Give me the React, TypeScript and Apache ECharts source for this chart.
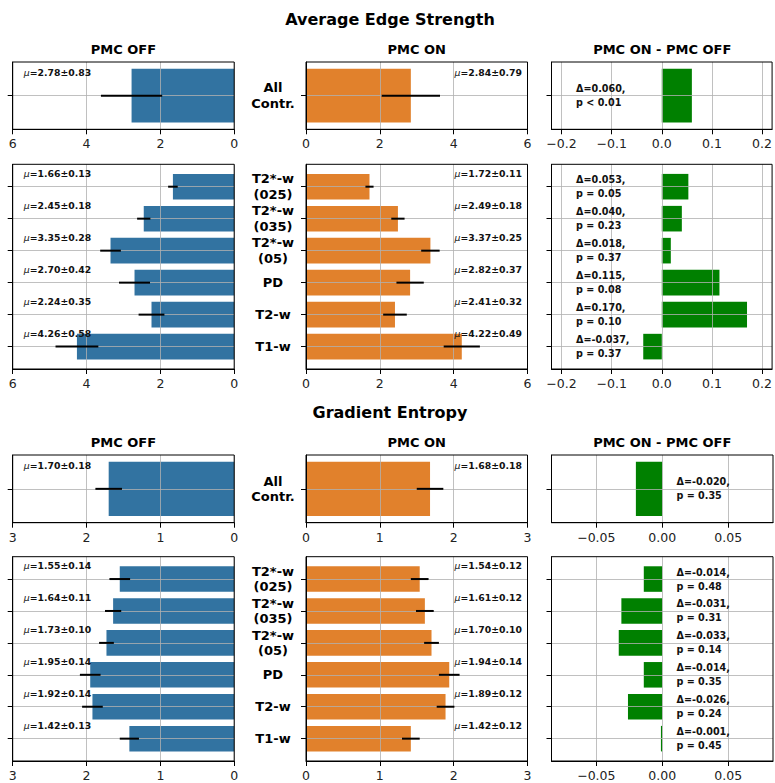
import React, { useEffect, useRef } from 'react';
import * as echarts from 'echarts';

// Contrast categories, listed top to bottom
const contrasts = ['T2*-w\n(025)', 'T2*-w\n(035)', 'T2*-w\n(05)', 'PD', 'T2-w', 'T1-w'];
const pooled = ['All\nContr.'];

// Average Edge Strength: pooled over all contrasts
const edgeOffAll = [2.78];
const edgeOffAllSd = [0.83];
const edgeOnAll = [2.84];
const edgeOnAllSd = [0.79];
const edgeDeltaAll = [0.06];
const edgePAll = ['p < 0.01'];

// Average Edge Strength: per contrast
const edgeOff = [1.66, 2.45, 3.35, 2.7, 2.24, 4.26];
const edgeOffSd = [0.13, 0.18, 0.28, 0.42, 0.35, 0.58];
const edgeOn = [1.72, 2.49, 3.37, 2.82, 2.41, 4.22];
const edgeOnSd = [0.11, 0.18, 0.25, 0.37, 0.32, 0.49];
const edgeDelta = [0.053, 0.04, 0.018, 0.115, 0.17, -0.037];
const edgeP = ['p = 0.05', 'p = 0.23', 'p = 0.37', 'p = 0.08', 'p = 0.10', 'p = 0.37'];

// Gradient Entropy: pooled over all contrasts
const gradOffAll = [1.7];
const gradOffAllSd = [0.18];
const gradOnAll = [1.68];
const gradOnAllSd = [0.18];
const gradDeltaAll = [-0.02];
const gradPAll = ['p = 0.35'];

// Gradient Entropy: per contrast
const gradOff = [1.55, 1.64, 1.73, 1.95, 1.92, 1.42];
const gradOffSd = [0.14, 0.11, 0.1, 0.14, 0.14, 0.13];
const gradOn = [1.54, 1.61, 1.7, 1.94, 1.89, 1.42];
const gradOnSd = [0.12, 0.12, 0.1, 0.14, 0.12, 0.12];
const gradDelta = [-0.014, -0.031, -0.033, -0.014, -0.026, -0.001];
const gradP = ['p = 0.48', 'p = 0.31', 'p = 0.14', 'p = 0.35', 'p = 0.24', 'p = 0.45'];

// Tick values
const edgeTicks = [0, 2, 4, 6];
const gradTicks = [0, 1, 2, 3];
const edgeDeltaTicks = [-0.2, -0.1, 0, 0.1, 0.2];
const gradDeltaTicks = [-0.05, 0, 0.05];

const subtitles = ['PMC OFF', 'PMC ON', 'PMC ON - PMC OFF'];

const FONT = 'DejaVu Sans';
const COLORS = ['#3273a1', '#e1812c', '#008000'];
const GRID_LINE = 'rgba(176,176,176,0.8)';

const sections = [
  {
    title: 'Average Edge Strength',
    ticks: edgeTicks,
    dTicks: edgeDeltaTicks,
    dLim: 0.22,
    dDec: 1,
    dTextX: -0.171,
    rows: [
      { cats: pooled, off: edgeOffAll, offSd: edgeOffAllSd, on: edgeOnAll, onSd: edgeOnAllSd, delta: edgeDeltaAll, p: edgePAll },
      { cats: contrasts, off: edgeOff, offSd: edgeOffSd, on: edgeOn, onSd: edgeOnSd, delta: edgeDelta, p: edgeP },
    ],
  },
  {
    title: 'Gradient Entropy',
    ticks: gradTicks,
    dTicks: gradDeltaTicks,
    dLim: 0.084,
    dDec: 2,
    dTextX: 0.0108,
    rows: [
      { cats: pooled, off: gradOffAll, offSd: gradOffAllSd, on: gradOnAll, onSd: gradOnAllSd, delta: gradDeltaAll, p: gradPAll },
      { cats: contrasts, off: gradOff, offSd: gradOffSd, on: gradOn, onSd: gradOnSd, delta: gradDelta, p: gradP },
    ],
  },
];

// Panel placement in pixels
const COL_LEFT = [12.7, 306, 551.5];
const COL_W = 221.5;
const layout = [
  { titleY: 19, subY: 49.3, rows: [{ top: 62, h: 67.3 }, { top: 164.3, h: 204.7 }] },
  { titleY: 412, subY: 442.3, rows: [{ top: 455, h: 67.7 }, { top: 556.7, h: 204.3 }] },
];

function headText(text: string, x: number, y: number, size: number) {
  return {
    type: 'text',
    x,
    y,
    z: 20,
    style: {
      text,
      fill: '#000',
      font: `bold ${size}px "${FONT}"`,
      align: 'center',
      verticalAlign: 'middle',
      textAlign: 'center',
      textVerticalAlign: 'middle',
    },
  };
}

// Horizontal bar from 0 to the value, 0.8 category units thick
function barRenderer(color: string) {
  return (params: any, api: any) => {
    const v = api.value(0);
    const i = api.value(1);
    const a = api.coord([0, i]);
    const b = api.coord([v, i]);
    const h = api.size([0, 0.8])[1];
    return {
      type: 'rect',
      shape: { x: Math.min(a[0], b[0]), y: a[1] - h / 2, width: Math.abs(b[0] - a[0]), height: h },
      style: { fill: color },
    };
  };
}

// Error bar spanning mean ± sd
function errRenderer(params: any, api: any) {
  const v = api.value(0);
  const i = api.value(1);
  const sd = api.value(2);
  const l = api.coord([v - sd, i]);
  const r = api.coord([v + sd, i]);
  return {
    type: 'line',
    shape: { x1: l[0], y1: l[1], x2: r[0], y2: r[1] },
    style: { stroke: '#000', lineWidth: 2 },
  };
}

function textRenderer(texts: string[], align: string, size: number, lineHeight: number) {
  return (params: any, api: any) => {
    const p = api.coord([api.value(0), api.value(1)]);
    return {
      type: 'text',
      x: p[0],
      y: p[1],
      style: {
        text: texts[params.dataIndex],
        fill: '#111',
        fontFamily: FONT,
        fontSize: size,
        fontWeight: 'bold',
        lineHeight,
        align,
        verticalAlign: 'middle',
        textAlign: align,
        textVerticalAlign: 'middle',
        rich: {
          m: { fontFamily: FONT, fontSize: size, fontStyle: 'italic', fontWeight: 'normal', fill: '#111' },
        },
      },
    };
  };
}

const fmtSigned = (v: number, d: number) => (v < -1e-9 ? '\u2212' : '') + Math.abs(v).toFixed(d);

function buildOption() {
  const grid: any[] = [];
  const xAxis: any[] = [];
  const yAxis: any[] = [];
  const series: any[] = [];
  const graphic: any[] = [];

  sections.forEach((sec, s) => {
    const L = layout[s];
    graphic.push(headText(sec.title, 390, L.titleY, 16));
    subtitles.forEach((t, c) => graphic.push(headText(t, COL_LEFT[c] + COL_W / 2, L.subY, 13)));

    sec.rows.forEach((row, r) => {
      const n = row.cats.length;
      const pad = n === 1 ? 0.5 : 0.7;
      const idx = row.cats.map((_, i) => i);
      const muY = n === 1 ? -0.35 : -0.42;
      const xMax = sec.ticks[sec.ticks.length - 1];

      for (let c = 0; c < 3; c++) {
        const g = grid.length;
        const isDelta = c === 2;
        grid.push({
          left: COL_LEFT[c],
          top: L.rows[r].top,
          width: COL_W,
          height: L.rows[r].h,
          show: true,
          borderColor: '#000',
          borderWidth: 1,
          backgroundColor: 'transparent',
          z: 6,
        });

        const common = {
          gridIndex: g,
          type: 'value',
          z: 3,
          axisLine: { show: true, onZero: false, lineStyle: { color: '#000', width: 1 } },
          axisTick: { show: true, length: 5, lineStyle: { color: '#000', width: 1 } },
          splitLine: { show: true, lineStyle: { color: GRID_LINE, width: 1 } },
        };

        if (isDelta) {
          xAxis.push({
            ...common,
            min: -sec.dLim,
            max: sec.dLim,
            axisTick: { ...common.axisTick, customValues: sec.dTicks },
            axisLabel: {
              customValues: sec.dTicks,
              fontFamily: FONT,
              fontSize: 12.5,
              color: '#222',
              margin: 8,
              formatter: (v: number) => fmtSigned(v, sec.dDec),
            },
          });
        } else {
          xAxis.push({
            ...common,
            min: sec.ticks[0],
            max: xMax,
            interval: sec.ticks[1] - sec.ticks[0],
            inverse: c === 0,
            axisLabel: { fontFamily: FONT, fontSize: 12.5, color: '#222', margin: 8 },
          });
        }

        yAxis.push({
          ...common,
          inverse: true,
          min: -pad,
          max: n - 1 + pad,
          axisTick: { ...common.axisTick, customValues: idx },
          axisLabel: {
            show: c === 1,
            customValues: idx,
            formatter: (v: number) => row.cats[Math.round(v)],
            fontFamily: FONT,
            fontSize: 13,
            fontWeight: 'bold',
            color: '#000',
            align: 'center',
            lineHeight: 15.5,
            margin: 33,
          },
        });

        const vals = c === 0 ? row.off : c === 1 ? row.on : row.delta;
        const sds = c === 0 ? row.offSd : c === 1 ? row.onSd : null;

        series.push({
          type: 'custom',
          xAxisIndex: g,
          yAxisIndex: g,
          z: 2,
          encode: { x: 0, y: 1 },
          data: vals.map((v, i) => [v, i]),
          renderItem: barRenderer(COLORS[c]),
        });

        if (sds) {
          series.push({
            type: 'custom',
            xAxisIndex: g,
            yAxisIndex: g,
            z: 4,
            clip: false,
            encode: { x: 0, y: 1 },
            data: vals.map((v, i) => [v, i, sds[i]]),
            renderItem: errRenderer,
          });
        }

        let texts: string[];
        let anchors: number[][];
        let align: string;
        if (isDelta) {
          texts = vals.map((d, i) => `\u0394=${d.toFixed(3)},\n${row.p[i]}`);
          anchors = idx.map((i) => [sec.dTextX, i]);
          align = 'left';
        } else {
          texts = vals.map((v, i) => `{m|\u03bc}=${v.toFixed(2)}\u00b1${(sds as number[])[i].toFixed(2)}`);
          const tx = c === 0 ? 0.95 * xMax : 0.975 * xMax;
          anchors = idx.map((i) => [tx, i + muY]);
          align = c === 0 ? 'left' : 'right';
        }
        series.push({
          type: 'custom',
          xAxisIndex: g,
          yAxisIndex: g,
          z: 8,
          clip: false,
          encode: { x: 0, y: 1 },
          data: anchors,
          renderItem: textRenderer(texts, align, isDelta ? 9.6 : 9.3, isDelta ? 14 : 12),
        });
      }
    });
  });

  return { animation: false, backgroundColor: '#fff', grid, xAxis, yAxis, series, graphic };
}

export default function App() {
  const ref = useRef<HTMLDivElement>(null);
  useEffect(() => {
    if (!ref.current) return;
    const chart = echarts.init(ref.current, null, { renderer: 'svg' });
    chart.setOption(buildOption() as any);
    return () => chart.dispose();
  }, []);
  return (
    <div
      ref={ref}
      style={{ position: 'fixed', left: 0, top: 0, width: 775, height: 783, background: '#fff' }}
    />
  );
}
